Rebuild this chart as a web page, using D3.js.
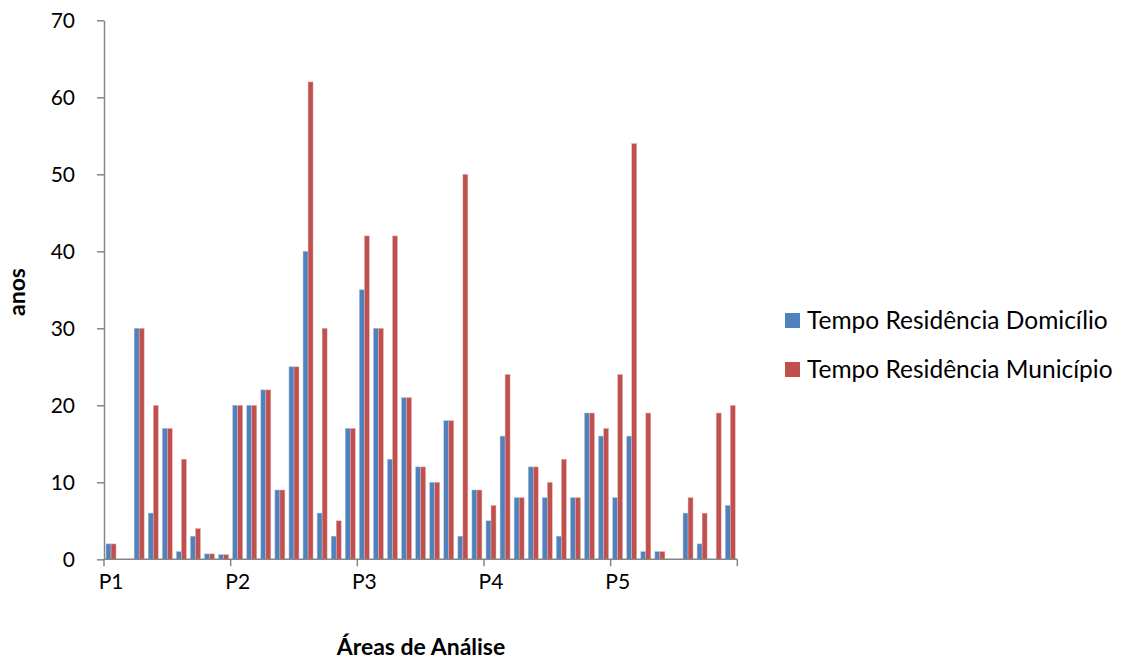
<!DOCTYPE html>
<html lang="pt">
<head>
    <meta charset="UTF-8">
    <title>Tempo de Residência por Área de Análise</title>
    <script src="https://d3js.org/d3.v7.min.js"></script>
    <style>
        body {
            margin: 0;
            padding: 0;
            background: #fff;
            font-family: "Lato", "Open Sans", sans-serif;
        }

        svg {
            display: block;
        }

        .axis path,
        .axis line {
            stroke: #868686;
            stroke-width: 1.5px;
        }

        .axis text {
            font-family: "Lato", "Open Sans", sans-serif;
            font-size: 21px;
            fill: #000;
        }

        .title {
            font-family: "Lato", "Open Sans", sans-serif;
            font-size: 23px;
            font-weight: bold;
        }

        .legend text {
            font-family: "Lato", "Open Sans", sans-serif;
            font-size: 24.5px;
        }
    </style>
</head>
<body>
    <svg id="chart" width="1127" height="659"></svg>
    <script>
        // Valores (45 casos, 9 por área)
        var domicilio = [2, 0, 30, 6, 17, 1, 3, 0.7, 0.6,
                         20, 20, 22, 9, 25, 40, 6, 3, 17,
                         35, 30, 13, 21, 12, 10, 18, 3, 9,
                         5, 16, 8, 12, 8, 3, 8, 19, 16,
                         8, 16, 1, 1, 0, 6, 2, 0, 7];
        var municipio = [2, 0, 30, 20, 17, 13, 4, 0.7, 0.6,
                         20, 20, 22, 9, 25, 62, 30, 5, 17,
                         42, 30, 42, 21, 12, 10, 18, 50, 9,
                         7, 24, 8, 12, 10, 13, 8, 19, 17,
                         24, 54, 19, 1, 0, 8, 6, 19, 20];
        var areaLabels = ['P1', 'P2', 'P3', 'P4', 'P5'];
        var perArea = 9;
        var seriesNames = ['Tempo Residência Domicílio', 'Tempo Residência Município'];
        var colors = ['#4F81BD', '#C0504D'];
        var yTicks = [0, 10, 20, 30, 40, 50, 60, 70];

        var svg = d3.select('#chart');

        var plotLeft = 104, plotRight = 737.3, plotTop = 20.3, plotBottom = 559.3;

        var cats = d3.range(domicilio.length);

        var x = d3.scaleBand()
            .domain(cats)
            .range([plotLeft, plotRight])
            .padding(0);

        var xSeries = d3.scaleBand()
            .domain([0, 1])
            .range([x.bandwidth() * 0.145, x.bandwidth() * 0.855]);

        var y = d3.scaleLinear()
            .domain([0, 70])
            .range([plotBottom, plotTop]);

        // Barras
        var rows = cats.map(function(i) { return [domicilio[i], municipio[i]]; });

        var groups = svg.append('g')
            .selectAll('g')
            .data(rows)
            .enter().append('g')
            .attr('transform', function(d, i) { return 'translate(' + x(i) + ',0)'; });

        groups.selectAll('rect')
            .data(function(d) { return d; })
            .enter().append('rect')
            .attr('x', function(d, j) { return xSeries(j); })
            .attr('width', xSeries.bandwidth())
            .attr('y', function(d) { return y(d); })
            .attr('height', function(d) { return plotBottom - y(d); })
            .attr('fill', function(d, j) { return colors[j]; })
            .attr('stroke', function(d, j) { return j === 0 ? '#A7BFDE' : '#E6B9B8'; })
            .attr('stroke-width', function(d) { return d > 0 ? 0.5 : 0; });

        // Eixo Y
        svg.append('g')
            .attr('class', 'axis')
            .attr('transform', 'translate(' + plotLeft + ',0)')
            .call(d3.axisLeft(y).tickValues(yTicks).tickSize(7).tickSizeOuter(0).tickPadding(22));

        // Eixo X: marcas a cada 9 casos, rótulos no primeiro caso de cada área
        var tickPos = d3.range(0, cats.length + 1, perArea).map(function(i) {
            return plotLeft + i * x.step();
        });

        var xAxis = svg.append('g').attr('class', 'axis');
        xAxis.append('line')
            .attr('x1', plotLeft).attr('x2', plotRight)
            .attr('y1', plotBottom).attr('y2', plotBottom);
        xAxis.selectAll('.tick')
            .data(tickPos)
            .enter().append('line')
            .attr('x1', function(d) { return d; })
            .attr('x2', function(d) { return d; })
            .attr('y1', plotBottom)
            .attr('y2', plotBottom + 7);
        xAxis.selectAll('.lbl')
            .data(areaLabels)
            .enter().append('text')
            .attr('x', function(d, i) { return x(i * perArea) + x.bandwidth() / 2; })
            .attr('y', plotBottom + 30)
            .attr('text-anchor', 'middle')
            .text(function(d) { return d; });

        // Títulos dos eixos
        svg.append('text')
            .attr('class', 'title')
            .attr('x', 421)
            .attr('y', 655)
            .attr('text-anchor', 'middle')
            .text('Áreas de Análise');

        svg.append('text')
            .attr('class', 'title')
            .attr('transform', 'translate(25,292) rotate(-90)')
            .attr('text-anchor', 'middle')
            .text('anos');

        // Legenda
        var legend = svg.append('g')
            .attr('class', 'legend')
            .selectAll('g')
            .data(seriesNames)
            .enter().append('g')
            .attr('transform', function(d, i) { return 'translate(785,' + (313 + i * 49) + ')'; });

        legend.append('rect')
            .attr('width', 15)
            .attr('height', 15)
            .attr('fill', function(d, i) { return colors[i]; });

        legend.append('text')
            .attr('x', 22)
            .attr('y', 16)
            .text(function(d) { return d; });
    </script>
</body>
</html>
